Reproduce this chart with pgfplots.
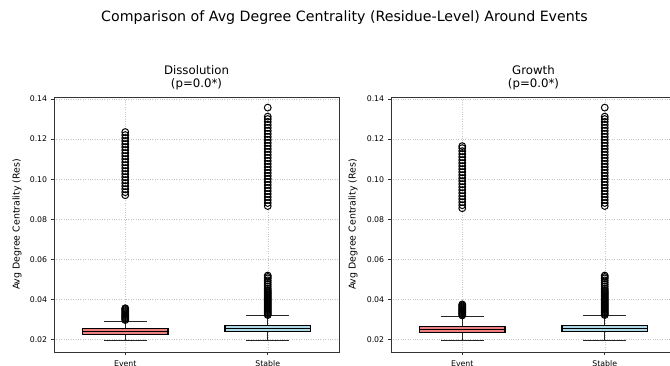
\documentclass[border=0pt]{standalone}
\usepackage{fontspec}
\setmainfont{DejaVu Sans}
\usepackage{pgfplots}
\pgfplotsset{compat=1.18}
\usepgfplotslibrary{statistics}
\definecolor{lcoral}{HTML}{F08080}
\definecolor{lblue}{HTML}{ADD8E6}
\pgfplotsset{
  myax/.style={
    scale only axis, width=285pt, height=255pt,
    xmin=0.5, xmax=2.5, ymin=0.01376, ymax=0.141,
    xtick={1,2}, xticklabels={Event,Stable},
    ytick={0.02,0.04,0.06,0.08,0.10,0.12,0.14},
    scaled y ticks=false,
    yticklabel style={/pgf/number format/fixed, /pgf/number format/precision=2, /pgf/number format/fixed zerofill},
    xticklabel style={yshift=-2pt},
    /pgf/number format/assume math mode=true,
    grid=major, grid style={dotted, black!22, line width=0.5pt},
    axis line style={black!80, line width=0.8pt},
    tick align=outside, tick pos=left, major tick length=3.3pt,
    tick style={black!80, line width=0.8pt},
    ticklabel style={font=\fontsize{7.8}{9}\selectfont},
    boxplot/draw direction=y,
    boxplot/every whisker/.style={black!85, line width=1.1pt},
    boxplot/every median/.style={black, line width=1.2pt},
  },
  bx/.style={draw=black, line width=1.1pt, mark=o, mark size=3.4pt,
    mark options={fill=white, draw=black, line width=1pt, solid}},
}
\begin{document}
\begin{tikzpicture}
\useasboundingbox (0,0) rectangle (670pt,366pt);
\clip (0,0) rectangle (670pt,366pt);
\node[font=\fontsize{14.2}{16}\selectfont] at (344.5pt,348pt) {Comparison of Avg Degree Centrality (Residue-Level) Around Events};

\begin{axis}[myax, name=ax1, at={(54pt,14pt)}, anchor=south west]
\addplot[bx, fill=lcoral, boxplot prepared={lower whisker=0.0195, lower quartile=0.0225, median=0.0240, upper quartile=0.0255, upper whisker=0.0292, draw position=1, box extend=0.6, whisker extend=0.3}]
table[row sep=\\, y index=0] {y\\
0.0297\\0.0302\\0.0307\\0.0312\\0.0317\\0.0322\\0.0327\\0.0332\\0.0337\\0.0342\\0.0347\\0.0352\\0.0356\\
0.0920\\0.0935\\0.0950\\0.0965\\0.0980\\0.0995\\0.1010\\0.1025\\0.1040\\0.1055\\0.1070\\0.1085\\0.1100\\0.1115\\0.1130\\0.1145\\0.1160\\0.1175\\0.1190\\0.1205\\0.1220\\0.1235\\
};
\addplot[bx, fill=lblue, boxplot prepared={lower whisker=0.0195, lower quartile=0.0238, median=0.0255, upper quartile=0.0272, upper whisker=0.0318, draw position=2, box extend=0.6, whisker extend=0.3}]
table[row sep=\\, y index=0] {y\\
0.0322\\0.0327\\0.0332\\0.0337\\0.0342\\0.0347\\0.0352\\0.0357\\0.0362\\0.0367\\0.0372\\0.0377\\0.0382\\0.0387\\0.0392\\0.0397\\0.0402\\0.0407\\0.0412\\0.0417\\0.0422\\0.0427\\0.0432\\0.0437\\0.0442\\0.0447\\0.0455\\0.0465\\0.0475\\0.0485\\0.0495\\0.0505\\0.0512\\0.0519\\
0.0866\\0.0881\\0.0896\\0.0911\\0.0926\\0.0941\\0.0956\\0.0971\\0.0986\\0.1001\\0.1016\\0.1031\\0.1046\\0.1061\\0.1076\\0.1091\\0.1106\\0.1121\\0.1136\\0.1151\\0.1166\\0.1181\\0.1196\\0.1211\\0.1226\\0.1241\\0.1256\\0.1271\\0.1286\\0.1300\\0.1312\\0.1357\\
};
\end{axis}
\node[anchor=south, align=center, inner sep=0pt, font=\fontsize{11.75}{13}\selectfont] at ([yshift=7pt]ax1.north) {Dissolution\\(p=0.0*)};
\node[rotate=90, font=\fontsize{9.4}{11}\selectfont] at ([xshift=-37pt]ax1.west) {Avg Degree Centrality (Res)};

\begin{axis}[myax, name=ax2, at={(391pt,14pt)}, anchor=south west]
\addplot[bx, fill=lcoral, boxplot prepared={lower whisker=0.0196, lower quartile=0.0233, median=0.0250, upper quartile=0.0267, upper whisker=0.0316, draw position=1, box extend=0.6, whisker extend=0.3}]
table[row sep=\\, y index=0] {y\\
0.0320\\0.0325\\0.0330\\0.0335\\0.0340\\0.0345\\0.0350\\0.0355\\0.0360\\0.0365\\0.0370\\0.0375\\
0.0855\\0.0870\\0.0885\\0.0900\\0.0915\\0.0930\\0.0945\\0.0960\\0.0975\\0.0990\\0.1005\\0.1020\\0.1035\\0.1050\\0.1065\\0.1080\\0.1095\\0.1110\\0.1125\\0.1140\\0.1155\\0.1165\\
};
\addplot[bx, fill=lblue, boxplot prepared={lower whisker=0.0193, lower quartile=0.0238, median=0.0255, upper quartile=0.0272, upper whisker=0.0319, draw position=2, box extend=0.6, whisker extend=0.3}]
table[row sep=\\, y index=0] {y\\
0.0322\\0.0327\\0.0332\\0.0337\\0.0342\\0.0347\\0.0352\\0.0357\\0.0362\\0.0367\\0.0372\\0.0377\\0.0382\\0.0387\\0.0392\\0.0397\\0.0402\\0.0407\\0.0412\\0.0417\\0.0422\\0.0427\\0.0432\\0.0437\\0.0442\\0.0447\\0.0455\\0.0465\\0.0475\\0.0485\\0.0495\\0.0505\\0.0512\\0.0519\\
0.0866\\0.0881\\0.0896\\0.0911\\0.0926\\0.0941\\0.0956\\0.0971\\0.0986\\0.1001\\0.1016\\0.1031\\0.1046\\0.1061\\0.1076\\0.1091\\0.1106\\0.1121\\0.1136\\0.1151\\0.1166\\0.1181\\0.1196\\0.1211\\0.1226\\0.1241\\0.1256\\0.1271\\0.1286\\0.1300\\0.1312\\0.1357\\
};
\end{axis}
\node[anchor=south, align=center, inner sep=0pt, font=\fontsize{11.75}{13}\selectfont] at ([yshift=7pt]ax2.north) {Growth\\(p=0.0*)};
\node[rotate=90, font=\fontsize{9.4}{11}\selectfont] at ([xshift=-38pt]ax2.west) {Avg Degree Centrality (Res)};
\end{tikzpicture}
\end{document}
